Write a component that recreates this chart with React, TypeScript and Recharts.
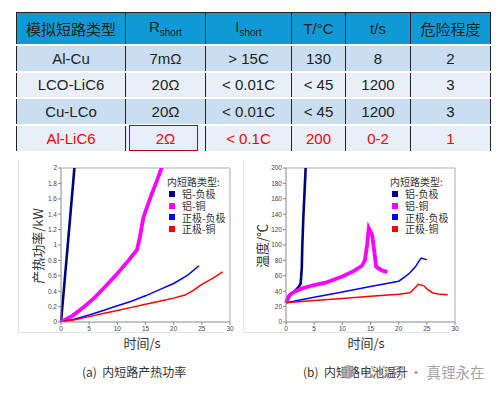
import { LineChart, Line, XAxis, YAxis, ReferenceLine } from 'recharts'

// ---- table ----
const SHORT_TYPES = ['Al-Cu', 'LCO-LiC6', 'Cu-LCo', 'Al-LiC6']
const R_SHORT = ['7mΩ', '20Ω', '20Ω', '2Ω']
const I_SHORT = ['> 15C', '< 0.01C', '< 0.01C', '< 0.1C']
const TEMPS = ['130', '< 45', '< 45', '200']
const TIMES = ['8', '1200', '1200', '0-2']
const DANGER = ['2', '3', '3', '1']
const COL_W = [109, 80, 86, 54, 65, 80]
const ROW_H = [27, 26, 27, 26]

// ---- charts ----
const SERIES_NAMES = ['铝-负极', '铝-铜', '正极-负极', '正极-铜']
const SERIES_COLORS = ['#000080', '#ff00ff', '#0000ff', '#ff0000']
const TIME_TICKS = [0, 5, 10, 15, 20, 25, 30]
const POWER_TICKS = [0, 0.2, 0.4, 0.6, 0.8, 1, 1.2, 1.4, 1.6, 1.8, 2]
const TEMP_TICKS = [0, 20, 40, 60, 80, 100, 120, 140, 160, 180, 200]

// (time s, power kW)
const POWER_AL_ANODE = [[0, 0], [1.2, 1.0], [2.5, 2.1]]
const POWER_AL_CU = [[0, 0], [2, 0.08], [4, 0.19], [6, 0.32], [8, 0.47], [10, 0.63], [12, 0.8], [13.5, 0.94], [14, 1.1], [14.6, 1.35], [15.3, 1.5], [16, 1.64], [17, 1.83], [18, 2.03]]
const POWER_CATH_ANODE = [[0, 0], [2.5, 0.04], [5, 0.09], [7.5, 0.15], [10, 0.21], [12.5, 0.27], [15, 0.34], [17.5, 0.42], [20, 0.5], [22.5, 0.61], [24.5, 0.73]]
const POWER_CATH_CU = [[0, 0], [2.5, 0.03], [5, 0.07], [7.5, 0.11], [10, 0.15], [12.5, 0.19], [15, 0.23], [17.5, 0.27], [20, 0.31], [22, 0.35], [23.5, 0.41], [25, 0.49], [27, 0.57], [28.7, 0.65]]

// (time s, temperature °C)
const TEMP_AL_ANODE = [[0, 25], [0.3, 32], [0.7, 36], [1.2, 38], [1.8, 42], [2.3, 46], [2.6, 50], [2.8, 70], [2.9, 100], [3.1, 140], [3.3, 170], [3.5, 202]]
const TEMP_AL_CU = [[0, 25], [0.5, 33], [1, 37], [2, 41], [3, 44], [5, 48], [7, 51], [10, 59], [12, 66], [13.5, 73], [14, 80], [14.4, 100], [14.7, 122], [15.3, 113], [15.7, 90], [16, 72], [17, 67], [18, 65]]
const TEMP_CATH_ANODE = [[0, 25], [5, 32], [10, 39], [15, 46], [20, 53], [21, 58], [22, 64], [23, 72], [23.5, 78], [24, 83], [25, 81]]
const TEMP_CATH_CU = [[0, 25], [5, 27.8], [10, 30.5], [15, 33.3], [20, 36], [22, 38], [23, 45], [23.5, 49], [24.5, 47], [25, 43], [26, 38], [27, 36.5], [28.7, 35.5]]

const POWER_SERIES = [POWER_AL_ANODE, POWER_AL_CU, POWER_CATH_ANODE, POWER_CATH_CU]
const TEMP_SERIES = [TEMP_AL_ANODE, TEMP_AL_CU, TEMP_CATH_ANODE, TEMP_CATH_CU]
const WIDTHS = [2.6, 3.8, 1.5, 1.5]

const tickStyle = { fontSize: 6.5, fill: '#444', fontFamily: 'Arial, "Liberation Sans"' }
const cjk = '"Noto Sans CJK SC", "DejaVu Serif", serif'

function Panel({ left, series, yTicks, yMax, yLabel, yLabelX, xLabelX, legendX }: any) {
  return (
    <>
      <div style={{ position: 'absolute', left: left - 12, top: 160, width: 205, height: 172, borderLeft: '1px solid #e4e4e4', borderBottom: '1px solid #e4e4e4' }} />
      <div style={{ position: 'absolute', left, top: 150 }}>
        <LineChart width={220} height={200} margin={{ top: 18, right: 20, bottom: 16, left: 11 }}>
          <XAxis dataKey="t" type="number" domain={[0, 30]} ticks={TIME_TICKS} interval={0}
            height={12} tick={tickStyle} tickSize={3} tickMargin={1}
            axisLine={{ stroke: '#888' }} tickLine={{ stroke: '#888' }} />
          <YAxis type="number" domain={[0, yMax]} ticks={yTicks} interval={0} allowDataOverflow
            width={20} tick={tickStyle} tickSize={3} tickMargin={1}
            axisLine={{ stroke: '#888' }} tickLine={{ stroke: '#888' }} />
          <ReferenceLine y={yMax} stroke="#aaa" />
          <ReferenceLine x={30} stroke="#aaa" />
          {series.map((pts: number[][], i: number) => (
            <Line key={SERIES_NAMES[i]} name={SERIES_NAMES[i]} data={pts.map(([t, v]) => ({ t, v }))}
              dataKey="v" type="linear" stroke={SERIES_COLORS[i]} strokeWidth={WIDTHS[i]}
              dot={false} isAnimationActive={false} />
          ))}
        </LineChart>
      </div>
      <div style={{ position: 'absolute', left: yLabelX - 60, top: 238, width: 120, textAlign: 'center', transform: 'rotate(-90deg)', fontSize: 13, lineHeight: '16px', color: '#333', fontFamily: cjk }}>{yLabel}</div>
      <div style={{ position: 'absolute', left: xLabelX - 40, top: 334, width: 80, textAlign: 'center', fontSize: 13, lineHeight: '18px', color: '#333', fontFamily: cjk }}>时间/s</div>
      <div style={{ position: 'absolute', left: legendX, top: 176, fontSize: 10, lineHeight: '11.8px', color: '#333', fontFamily: cjk }}>
        <div style={{ marginLeft: -2, height: 12 }}>内短路类型:</div>
        {SERIES_NAMES.map((n, i) => (
          <div key={n} style={{ display: 'flex', alignItems: 'center', height: 11.8 }}>
            <span style={{ width: 6, height: 6, background: SERIES_COLORS[i], marginRight: 7 }} />
            <span>{n}</span>
          </div>
        ))}
      </div>
    </>
  )
}

const cellBase = { borderLeft: '1px solid #222', borderRight: '1px solid #222', textAlign: 'center' as const, padding: 0 }

export default function App() {
  return (
    <div style={{ position: 'absolute', left: 0, top: 0, width: 499, height: 395, background: '#fff', overflow: 'hidden' }}>
      <table style={{ position: 'absolute', left: 16, top: 12, borderCollapse: 'collapse', tableLayout: 'fixed', width: 474, fontFamily: 'Arial, "Liberation Sans", "Noto Sans CJK SC"', fontSize: 15, color: '#222' }}>
        <colgroup>{COL_W.map((w, i) => <col key={i} style={{ width: w }} />)}</colgroup>
        <tbody>
          <tr style={{ height: 32, background: '#0f9ad6', borderTop: '1px solid #222', borderBottom: '2px solid #fff' }}>
            <td style={cellBase}>模拟短路类型</td>
            <td style={cellBase}>R<sub style={{ fontSize: 10 }}>short</sub></td>
            <td style={cellBase}>I<sub style={{ fontSize: 10 }}>short</sub></td>
            <td style={cellBase}>T/°C</td>
            <td style={cellBase}>t/s</td>
            <td style={cellBase}>危险程度</td>
          </tr>
          {SHORT_TYPES.map((s, r) => {
            const red = r === 3
            const style = { ...cellBase, color: red ? '#ff0000' : '#222' }
            return (
              <tr key={s} style={{ height: ROW_H[r], background: r % 2 === 0 ? '#cadef1' : '#e8eff8', borderBottom: r < 3 ? '2px solid #fff' : 'none' }}>
                <td style={style}>{s}</td>
                <td style={{ ...style, position: 'relative' }}>
                  {red && <div style={{ position: 'absolute', left: 3, right: 7, top: -1, bottom: 0, border: '1.5px solid #c00000' }} />}
                  {R_SHORT[r]}
                </td>
                <td style={style}>{I_SHORT[r]}</td>
                <td style={style}>{TEMPS[r]}</td>
                <td style={style}>{TIMES[r]}</td>
                <td style={style}>{DANGER[r]}</td>
              </tr>
            )
          })}
        </tbody>
      </table>

      <Panel left={30} series={POWER_SERIES} yTicks={POWER_TICKS} yMax={2} yLabel="产热功率/kW" yLabelX={38} xLabelX={142} legendX={169} />
      <Panel left={255} series={TEMP_SERIES} yTicks={TEMP_TICKS} yMax={200} yLabel="温度/℃" yLabelX={262} xLabelX={366} legendX={392} />

      <div style={{ position: 'absolute', left: 82, top: 364, fontSize: 12, lineHeight: '16px', color: '#333', fontFamily: cjk, whiteSpace: 'nowrap' }}>(a)&nbsp; 内短路产热功率</div>
      <div style={{ position: 'absolute', left: 303, top: 364, fontSize: 12, lineHeight: '16px', color: '#333', fontFamily: cjk, whiteSpace: 'nowrap' }}>(b)&nbsp; 内短路电池温升</div>
      <div style={{ position: 'absolute', left: 341, top: 365, width: 14, height: 14, borderRadius: 7, background: 'rgba(160,160,160,0.8)' }} />
      <div style={{ position: 'absolute', left: 362, top: 362, fontSize: 14.5, lineHeight: '20px', color: 'rgba(150,150,150,0.9)', fontFamily: '"Noto Sans CJK SC", sans-serif', whiteSpace: 'nowrap' }}>公众号 · 真锂永在</div>
    </div>
  )
}
